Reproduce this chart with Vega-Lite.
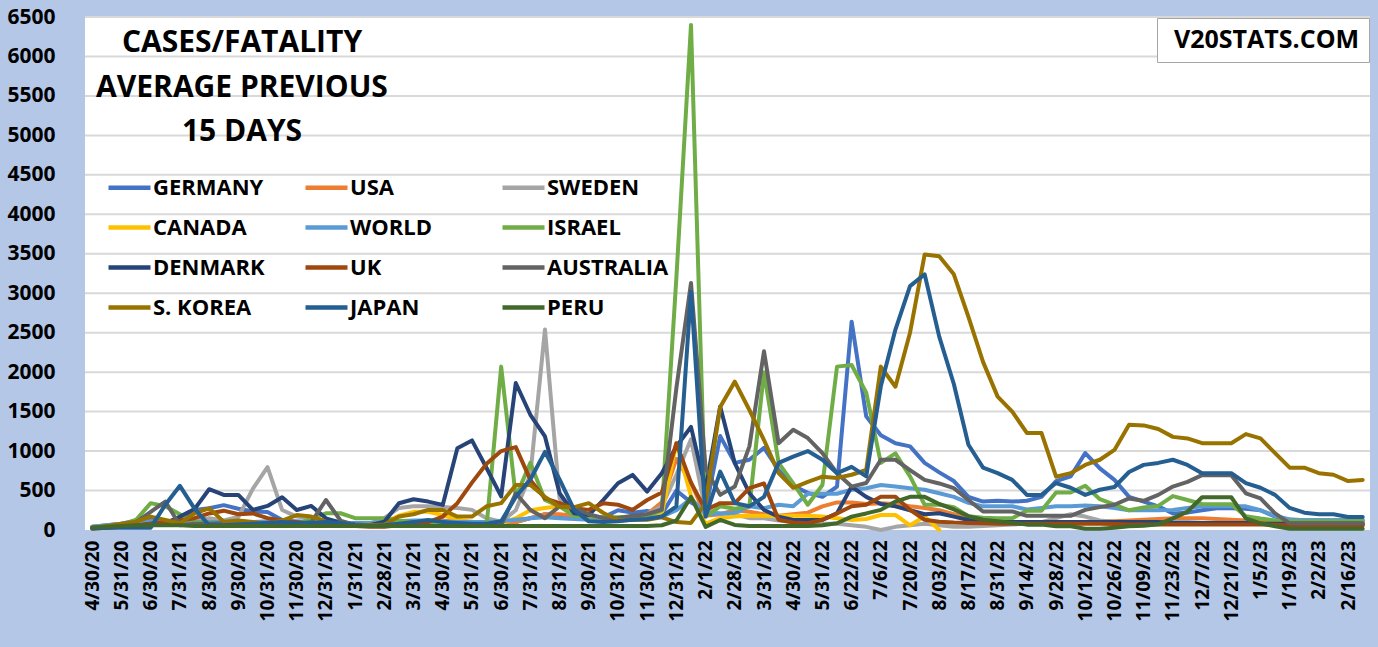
{
  "$schema": "https://vega.github.io/schema/vega-lite/v6.json",
  "width": 1285,
  "height": 513,
  "autosize": {"type": "none"},
  "padding": {"left": 85, "top": 17, "right": 8, "bottom": 117},
  "background": "#B4C7E7",
  "config": {
    "font": "Open Sans",
    "view": {"stroke": null},
    "axisY": {
      "title": null,
      "format": "d",
      "values": [0, 500, 1000, 1500, 2000, 2500, 3000, 3500, 4000, 4500, 5000, 5500, 6000, 6500],
      "labelFont": "Open Sans",
      "labelFontSize": 21,
      "labelFontWeight": "bold",
      "labelColor": "black",
      "labelPadding": 30,
      "ticks": false,
      "tickSize": 0,
      "domain": false,
      "grid": false
    }
  },
  "title": {
    "text": ["CASES/FATALITY", "AVERAGE PREVIOUS", "15 DAYS"],
    "anchor": "start",
    "align": "center",
    "frame": "group",
    "dx": 157,
    "offset": -141,
    "font": "Open Sans",
    "fontSize": 30,
    "fontWeight": "bold",
    "color": "black",
    "lineHeight": 44.5
  },
  "datasets": {
    "rates": [
      {"d": "4/30/20", "GERMANY": 40, "USA": 20, "SWEDEN": 30, "CANADA": 30, "WORLD": 40, "ISRAEL": 20, "DENMARK": 30, "UK": 20, "AUSTRALIA": 30, "SKOREA": 30, "JAPAN": 20, "PERU": 30},
      {"d": "5/15/20", "GERMANY": 60, "USA": 40, "SWEDEN": 50, "CANADA": 50, "WORLD": 60, "ISRAEL": 40, "DENMARK": 40, "UK": 30, "AUSTRALIA": 30, "SKOREA": 50, "JAPAN": 30, "PERU": 40},
      {"d": "5/31/20", "GERMANY": 80, "USA": 60, "SWEDEN": 60, "CANADA": 60, "WORLD": 80, "ISRAEL": 60, "DENMARK": 40, "UK": 40, "AUSTRALIA": 40, "SKOREA": 80, "JAPAN": 30, "PERU": 50},
      {"d": "6/15/20", "GERMANY": 120, "USA": 80, "SWEDEN": 100, "CANADA": 70, "WORLD": 100, "ISRAEL": 130, "DENMARK": 50, "UK": 60, "AUSTRALIA": 100, "SKOREA": 106, "JAPAN": 30, "PERU": 60},
      {"d": "6/30/20", "GERMANY": 150, "USA": 80, "SWEDEN": 100, "CANADA": 80, "WORLD": 110, "ISRAEL": 340, "DENMARK": 80, "UK": 80, "AUSTRALIA": 230, "SKOREA": 170, "JAPAN": 30, "PERU": 60},
      {"d": "7/15/20", "GERMANY": 100, "USA": 70, "SWEDEN": 80, "CANADA": 90, "WORLD": 110, "ISRAEL": 300, "DENMARK": 80, "UK": 100, "AUSTRALIA": 360, "SKOREA": 127, "JAPAN": 320, "PERU": 60},
      {"d": "7/31/21 ", "GERMANY": 150, "USA": 70, "SWEDEN": 100, "CANADA": 80, "WORLD": 110, "ISRAEL": 200, "DENMARK": 170, "UK": 120, "AUSTRALIA": 60, "SKOREA": 85, "JAPAN": 560, "PERU": 60},
      {"d": "8/15/20", "GERMANY": 255, "USA": 60, "SWEDEN": 120, "CANADA": 100, "WORLD": 100, "ISRAEL": 100, "DENMARK": 265, "UK": 150, "AUSTRALIA": 80, "SKOREA": 212, "JAPAN": 270, "PERU": 50},
      {"d": "8/30/20", "GERMANY": 275, "USA": 60, "SWEDEN": 150, "CANADA": 100, "WORLD": 100, "ISRAEL": 90, "DENMARK": 517, "UK": 210, "AUSTRALIA": 80, "SKOREA": 275, "JAPAN": 60, "PERU": 50},
      {"d": "9/15/20", "GERMANY": 315, "USA": 60, "SWEDEN": 120, "CANADA": 80, "WORLD": 100, "ISRAEL": 80, "DENMARK": 444, "UK": 245, "AUSTRALIA": 90, "SKOREA": 106, "JAPAN": 60, "PERU": 50},
      {"d": "9/30/20", "GERMANY": 270, "USA": 60, "SWEDEN": 165, "CANADA": 80, "WORLD": 100, "ISRAEL": 90, "DENMARK": 444, "UK": 200, "AUSTRALIA": 90, "SKOREA": 120, "JAPAN": 70, "PERU": 50},
      {"d": "10/15/20", "GERMANY": 235, "USA": 60, "SWEDEN": 525, "CANADA": 80, "WORLD": 100, "ISRAEL": 80, "DENMARK": 254, "UK": 210, "AUSTRALIA": 90, "SKOREA": 100, "JAPAN": 80, "PERU": 50},
      {"d": "10/31/20", "GERMANY": 228, "USA": 70, "SWEDEN": 796, "CANADA": 90, "WORLD": 110, "ISRAEL": 80, "DENMARK": 305, "UK": 150, "AUSTRALIA": 90, "SKOREA": 80, "JAPAN": 90, "PERU": 50},
      {"d": "11/15/20", "GERMANY": 127, "USA": 80, "SWEDEN": 254, "CANADA": 80, "WORLD": 110, "ISRAEL": 90, "DENMARK": 415, "UK": 120, "AUSTRALIA": 80, "SKOREA": 120, "JAPAN": 100, "PERU": 50},
      {"d": "11/30/20", "GERMANY": 100, "USA": 80, "SWEDEN": 170, "CANADA": 70, "WORLD": 110, "ISRAEL": 80, "DENMARK": 254, "UK": 100, "AUSTRALIA": 80, "SKOREA": 190, "JAPAN": 90, "PERU": 50},
      {"d": "12/15/20", "GERMANY": 80, "USA": 70, "SWEDEN": 150, "CANADA": 60, "WORLD": 100, "ISRAEL": 140, "DENMARK": 305, "UK": 80, "AUSTRALIA": 100, "SKOREA": 170, "JAPAN": 90, "PERU": 50},
      {"d": "12/31/20", "GERMANY": 70, "USA": 60, "SWEDEN": 120, "CANADA": 60, "WORLD": 100, "ISRAEL": 212, "DENMARK": 148, "UK": 70, "AUSTRALIA": 380, "SKOREA": 106, "JAPAN": 100, "PERU": 50},
      {"d": "1/15/21", "GERMANY": 70, "USA": 60, "SWEDEN": 100, "CANADA": 60, "WORLD": 90, "ISRAEL": 212, "DENMARK": 93, "UK": 60, "AUSTRALIA": 120, "SKOREA": 60, "JAPAN": 90, "PERU": 50},
      {"d": "1/31/21", "GERMANY": 60, "USA": 60, "SWEDEN": 80, "CANADA": 50, "WORLD": 90, "ISRAEL": 150, "DENMARK": 70, "UK": 50, "AUSTRALIA": 60, "SKOREA": 60, "JAPAN": 60, "PERU": 50},
      {"d": "2/14/21", "GERMANY": 50, "USA": 50, "SWEDEN": 80, "CANADA": 60, "WORLD": 90, "ISRAEL": 150, "DENMARK": 60, "UK": 40, "AUSTRALIA": 50, "SKOREA": 60, "JAPAN": 50, "PERU": 50},
      {"d": "2/28/21", "GERMANY": 60, "USA": 50, "SWEDEN": 150, "CANADA": 100, "WORLD": 100, "ISRAEL": 150, "DENMARK": 106, "UK": 40, "AUSTRALIA": 50, "SKOREA": 70, "JAPAN": 60, "PERU": 50},
      {"d": "3/15/21", "GERMANY": 90, "USA": 60, "SWEDEN": 280, "CANADA": 180, "WORLD": 110, "ISRAEL": 120, "DENMARK": 339, "UK": 60, "AUSTRALIA": 50, "SKOREA": 170, "JAPAN": 80, "PERU": 50},
      {"d": "3/31/21", "GERMANY": 100, "USA": 80, "SWEDEN": 300, "CANADA": 230, "WORLD": 120, "ISRAEL": 100, "DENMARK": 390, "UK": 80, "AUSTRALIA": 50, "SKOREA": 200, "JAPAN": 100, "PERU": 50},
      {"d": "4/15/21", "GERMANY": 110, "USA": 100, "SWEDEN": 300, "CANADA": 230, "WORLD": 120, "ISRAEL": 90, "DENMARK": 360, "UK": 100, "AUSTRALIA": 50, "SKOREA": 255, "JAPAN": 127, "PERU": 50},
      {"d": "4/30/21", "GERMANY": 100, "USA": 120, "SWEDEN": 290, "CANADA": 190, "WORLD": 110, "ISRAEL": 80, "DENMARK": 318, "UK": 170, "AUSTRALIA": 50, "SKOREA": 254, "JAPAN": 100, "PERU": 50},
      {"d": "5/15/21", "GERMANY": 80, "USA": 100, "SWEDEN": 280, "CANADA": 130, "WORLD": 100, "ISRAEL": 70, "DENMARK": 1037, "UK": 340, "AUSTRALIA": 50, "SKOREA": 170, "JAPAN": 90, "PERU": 50},
      {"d": "5/31/21", "GERMANY": 60, "USA": 80, "SWEDEN": 255, "CANADA": 105, "WORLD": 100, "ISRAEL": 70, "DENMARK": 1135, "UK": 600, "AUSTRALIA": 50, "SKOREA": 170, "JAPAN": 80, "PERU": 50},
      {"d": "6/15/21", "GERMANY": 50, "USA": 80, "SWEDEN": 150, "CANADA": 80, "WORLD": 100, "ISRAEL": 50, "DENMARK": 786, "UK": 840, "AUSTRALIA": 50, "SKOREA": 300, "JAPAN": 80, "PERU": 50},
      {"d": "6/30/21", "GERMANY": 60, "USA": 70, "SWEDEN": 105, "CANADA": 80, "WORLD": 110, "ISRAEL": 2070, "DENMARK": 425, "UK": 1000, "AUSTRALIA": 60, "SKOREA": 340, "JAPAN": 110, "PERU": 50},
      {"d": "7/15/21", "GERMANY": 100, "USA": 100, "SWEDEN": 250, "CANADA": 150, "WORLD": 130, "ISRAEL": 420, "DENMARK": 1863, "UK": 1050, "AUSTRALIA": 465, "SKOREA": 570, "JAPAN": 420, "PERU": 50},
      {"d": "7/31/21", "GERMANY": 150, "USA": 150, "SWEDEN": 700, "CANADA": 250, "WORLD": 150, "ISRAEL": 850, "DENMARK": 1460, "UK": 635, "AUSTRALIA": 254, "SKOREA": 570, "JAPAN": 640, "PERU": 50},
      {"d": "8/15/21", "GERMANY": 200, "USA": 200, "SWEDEN": 2540, "CANADA": 280, "WORLD": 160, "ISRAEL": 380, "DENMARK": 1185, "UK": 400, "AUSTRALIA": 150, "SKOREA": 420, "JAPAN": 990, "PERU": 50},
      {"d": "8/31/21", "GERMANY": 180, "USA": 200, "SWEDEN": 400, "CANADA": 300, "WORLD": 150, "ISRAEL": 300, "DENMARK": 465, "UK": 340, "AUSTRALIA": 300, "SKOREA": 290, "JAPAN": 640, "PERU": 50},
      {"d": "9/15/21", "GERMANY": 200, "USA": 180, "SWEDEN": 200, "CANADA": 200, "WORLD": 140, "ISRAEL": 180, "DENMARK": 211, "UK": 275, "AUSTRALIA": 280, "SKOREA": 290, "JAPAN": 255, "PERU": 50},
      {"d": "9/30/21", "GERMANY": 180, "USA": 160, "SWEDEN": 160, "CANADA": 150, "WORLD": 130, "ISRAEL": 170, "DENMARK": 190, "UK": 255, "AUSTRALIA": 200, "SKOREA": 340, "JAPAN": 110, "PERU": 50},
      {"d": "10/15/21", "GERMANY": 160, "USA": 150, "SWEDEN": 150, "CANADA": 150, "WORLD": 120, "ISRAEL": 160, "DENMARK": 381, "UK": 340, "AUSTRALIA": 150, "SKOREA": 215, "JAPAN": 100, "PERU": 50},
      {"d": "10/31/21", "GERMANY": 250, "USA": 140, "SWEDEN": 150, "CANADA": 140, "WORLD": 120, "ISRAEL": 160, "DENMARK": 592, "UK": 320, "AUSTRALIA": 150, "SKOREA": 130, "JAPAN": 110, "PERU": 50},
      {"d": "11/15/21", "GERMANY": 220, "USA": 160, "SWEDEN": 170, "CANADA": 150, "WORLD": 130, "ISRAEL": 170, "DENMARK": 698, "UK": 255, "AUSTRALIA": 180, "SKOREA": 130, "JAPAN": 130, "PERU": 50},
      {"d": "11/30/21", "GERMANY": 240, "USA": 200, "SWEDEN": 200, "CANADA": 150, "WORLD": 140, "ISRAEL": 180, "DENMARK": 487, "UK": 380, "AUSTRALIA": 200, "SKOREA": 130, "JAPAN": 140, "PERU": 50},
      {"d": "12/15/21", "GERMANY": 200, "USA": 350, "SWEDEN": 300, "CANADA": 200, "WORLD": 170, "ISRAEL": 250, "DENMARK": 720, "UK": 475, "AUSTRALIA": 260, "SKOREA": 160, "JAPAN": 170, "PERU": 60},
      {"d": "12/31/21", "GERMANY": 500, "USA": 900, "SWEDEN": 700, "CANADA": 1100, "WORLD": 250, "ISRAEL": 3200, "DENMARK": 1058, "UK": 1100, "AUSTRALIA": 1800, "SKOREA": 100, "JAPAN": 300, "PERU": 120},
      {"d": "1/15/22", "GERMANY": 350, "USA": 600, "SWEDEN": 1150, "CANADA": 430, "WORLD": 400, "ISRAEL": 6400, "DENMARK": 1307, "UK": 600, "AUSTRALIA": 3130, "SKOREA": 90, "JAPAN": 3020, "PERU": 420},
      {"d": "2/1/22", "GERMANY": 250, "USA": 180, "SWEDEN": 250, "CANADA": 80, "WORLD": 200, "ISRAEL": 170, "DENMARK": 520, "UK": 255, "AUSTRALIA": 780, "SKOREA": 340, "JAPAN": 170, "PERU": 40},
      {"d": "2/14/22", "GERMANY": 1190, "USA": 200, "SWEDEN": 210, "CANADA": 150, "WORLD": 210, "ISRAEL": 300, "DENMARK": 1566, "UK": 340, "AUSTRALIA": 445, "SKOREA": 1560, "JAPAN": 740, "PERU": 127},
      {"d": "2/28/22", "GERMANY": 850, "USA": 250, "SWEDEN": 200, "CANADA": 170, "WORLD": 220, "ISRAEL": 270, "DENMARK": 847, "UK": 340, "AUSTRALIA": 550, "SKOREA": 1880, "JAPAN": 340, "PERU": 64},
      {"d": "3/15/22", "GERMANY": 890, "USA": 230, "SWEDEN": 150, "CANADA": 180, "WORLD": 300, "ISRAEL": 300, "DENMARK": 466, "UK": 530, "AUSTRALIA": 1060, "SKOREA": 1520, "JAPAN": 300, "PERU": 50},
      {"d": "3/31/22", "GERMANY": 1040, "USA": 200, "SWEDEN": 150, "CANADA": 180, "WORLD": 275, "ISRAEL": 2000, "DENMARK": 254, "UK": 590, "AUSTRALIA": 2265, "SKOREA": 1140, "JAPAN": 420, "PERU": 50},
      {"d": "4/15/22", "GERMANY": 760, "USA": 180, "SWEDEN": 120, "CANADA": 180, "WORLD": 320, "ISRAEL": 850, "DENMARK": 170, "UK": 130, "AUSTRALIA": 1100, "SKOREA": 720, "JAPAN": 850, "PERU": 50},
      {"d": "4/30/22", "GERMANY": 560, "USA": 200, "SWEDEN": 100, "CANADA": 180, "WORLD": 300, "ISRAEL": 590, "DENMARK": 127, "UK": 95, "AUSTRALIA": 1270, "SKOREA": 535, "JAPAN": 930, "PERU": 50},
      {"d": "5/15/22", "GERMANY": 470, "USA": 220, "SWEDEN": 100, "CANADA": 180, "WORLD": 460, "ISRAEL": 320, "DENMARK": 127, "UK": 85, "AUSTRALIA": 1165, "SKOREA": 610, "JAPAN": 1000, "PERU": 50},
      {"d": "5/31/22", "GERMANY": 420, "USA": 300, "SWEDEN": 80, "CANADA": 170, "WORLD": 460, "ISRAEL": 570, "DENMARK": 127, "UK": 130, "AUSTRALIA": 975, "SKOREA": 675, "JAPAN": 890, "PERU": 60},
      {"d": "6/8/22", "GERMANY": 550, "USA": 350, "SWEDEN": 80, "CANADA": 150, "WORLD": 460, "ISRAEL": 2070, "DENMARK": 212, "UK": 210, "AUSTRALIA": 720, "SKOREA": 660, "JAPAN": 720, "PERU": 85},
      {"d": "6/22/22", "GERMANY": 2640, "USA": 350, "SWEDEN": 60, "CANADA": 127, "WORLD": 510, "ISRAEL": 2090, "DENMARK": 550, "UK": 300, "AUSTRALIA": 550, "SKOREA": 700, "JAPAN": 800, "PERU": 170},
      {"d": "6/29/22", "GERMANY": 1440, "USA": 330, "SWEDEN": 40, "CANADA": 140, "WORLD": 530, "ISRAEL": 1740, "DENMARK": 420, "UK": 320, "AUSTRALIA": 595, "SKOREA": 760, "JAPAN": 680, "PERU": 210},
      {"d": "7/6/22", "GERMANY": 1200, "USA": 340, "SWEDEN": 0, "CANADA": 190, "WORLD": 570, "ISRAEL": 850, "DENMARK": 330, "UK": 420, "AUSTRALIA": 890, "SKOREA": 2070, "JAPAN": 1820, "PERU": 255},
      {"d": "7/13/22", "GERMANY": 1100, "USA": 330, "SWEDEN": 40, "CANADA": 190, "WORLD": 550, "ISRAEL": 970, "DENMARK": 300, "UK": 420, "AUSTRALIA": 890, "SKOREA": 1815, "JAPAN": 2540, "PERU": 360},
      {"d": "7/20/22", "GERMANY": 1060, "USA": 300, "SWEDEN": 60, "CANADA": 60, "WORLD": 530, "ISRAEL": 680, "DENMARK": 250, "UK": 255, "AUSTRALIA": 760, "SKOREA": 2500, "JAPAN": 3090, "PERU": 420},
      {"d": "7/27/22", "GERMANY": 850, "USA": 280, "SWEDEN": 80, "CANADA": 170, "WORLD": 510, "ISRAEL": 320, "DENMARK": 200, "UK": 130, "AUSTRALIA": 635, "SKOREA": 3490, "JAPAN": 3240, "PERU": 420},
      {"d": "8/03/22", "GERMANY": 730, "USA": 250, "SWEDEN": 60, "CANADA": 0, "WORLD": 465, "ISRAEL": 320, "DENMARK": 212, "UK": 105, "AUSTRALIA": 590, "SKOREA": 3470, "JAPAN": 2450, "PERU": 330},
      {"d": "8/10/22", "GERMANY": 620, "USA": 200, "SWEDEN": 40, "CANADA": null, "WORLD": 420, "ISRAEL": 290, "DENMARK": 170, "UK": 95, "AUSTRALIA": 530, "SKOREA": 3240, "JAPAN": 1850, "PERU": 260},
      {"d": "8/17/22", "GERMANY": 420, "USA": 150, "SWEDEN": 40, "CANADA": null, "WORLD": 345, "ISRAEL": 175, "DENMARK": 127, "UK": 90, "AUSTRALIA": 380, "SKOREA": 2700, "JAPAN": 1080, "PERU": 175},
      {"d": "8/24/22", "GERMANY": 360, "USA": 120, "SWEDEN": 50, "CANADA": null, "WORLD": 300, "ISRAEL": 155, "DENMARK": 110, "UK": 85, "AUSTRALIA": 235, "SKOREA": 2130, "JAPAN": 790, "PERU": 130},
      {"d": "8/31/22", "GERMANY": 370, "USA": 100, "SWEDEN": 60, "CANADA": null, "WORLD": 300, "ISRAEL": 150, "DENMARK": 100, "UK": 80, "AUSTRALIA": 235, "SKOREA": 1690, "JAPAN": 720, "PERU": 110},
      {"d": "9/7/22", "GERMANY": 360, "USA": 100, "SWEDEN": 70, "CANADA": null, "WORLD": 300, "ISRAEL": 150, "DENMARK": 100, "UK": 80, "AUSTRALIA": 235, "SKOREA": 1500, "JAPAN": 635, "PERU": 90},
      {"d": "9/14/22", "GERMANY": 370, "USA": 100, "SWEDEN": 80, "CANADA": null, "WORLD": 260, "ISRAEL": 245, "DENMARK": 100, "UK": 80, "AUSTRALIA": 180, "SKOREA": 1230, "JAPAN": 445, "PERU": 68},
      {"d": "9/21/22", "GERMANY": 420, "USA": 100, "SWEDEN": 100, "CANADA": null, "WORLD": 280, "ISRAEL": 245, "DENMARK": 100, "UK": 80, "AUSTRALIA": 180, "SKOREA": 1230, "JAPAN": 445, "PERU": 68},
      {"d": "9/28/22", "GERMANY": 620, "USA": 100, "SWEDEN": 150, "CANADA": null, "WORLD": 300, "ISRAEL": 475, "DENMARK": 100, "UK": 80, "AUSTRALIA": 180, "SKOREA": 675, "JAPAN": 595, "PERU": 47},
      {"d": "10/5/22", "GERMANY": 680, "USA": 100, "SWEDEN": 200, "CANADA": null, "WORLD": 300, "ISRAEL": 475, "DENMARK": 100, "UK": 80, "AUSTRALIA": 180, "SKOREA": 720, "JAPAN": 535, "PERU": 47},
      {"d": "10/12/22", "GERMANY": 975, "USA": 100, "SWEDEN": 170, "CANADA": null, "WORLD": 310, "ISRAEL": 560, "DENMARK": 100, "UK": 80, "AUSTRALIA": 255, "SKOREA": 825, "JAPAN": 445, "PERU": 15},
      {"d": "10/19/22", "GERMANY": 780, "USA": 110, "SWEDEN": 120, "CANADA": null, "WORLD": 300, "ISRAEL": 390, "DENMARK": 100, "UK": 80, "AUSTRALIA": 290, "SKOREA": 890, "JAPAN": 510, "PERU": 15},
      {"d": "10/26/22", "GERMANY": 635, "USA": 110, "SWEDEN": 100, "CANADA": null, "WORLD": 280, "ISRAEL": 320, "DENMARK": 100, "UK": 75, "AUSTRALIA": 320, "SKOREA": 1015, "JAPAN": 545, "PERU": 30},
      {"d": "11/02/22", "GERMANY": 420, "USA": 120, "SWEDEN": 100, "CANADA": null, "WORLD": 250, "ISRAEL": 250, "DENMARK": 100, "UK": 70, "AUSTRALIA": 400, "SKOREA": 1335, "JAPAN": 735, "PERU": 47},
      {"d": "11/09/22", "GERMANY": 360, "USA": 130, "SWEDEN": 100, "CANADA": null, "WORLD": 250, "ISRAEL": 285, "DENMARK": 100, "UK": 70, "AUSTRALIA": 370, "SKOREA": 1325, "JAPAN": 825, "PERU": 55},
      {"d": "11/16/22", "GERMANY": 300, "USA": 140, "SWEDEN": 100, "CANADA": null, "WORLD": 250, "ISRAEL": 305, "DENMARK": 100, "UK": 70, "AUSTRALIA": 445, "SKOREA": 1280, "JAPAN": 850, "PERU": 72},
      {"d": "11/23/22", "GERMANY": 210, "USA": 150, "SWEDEN": 100, "CANADA": null, "WORLD": 255, "ISRAEL": 430, "DENMARK": 90, "UK": 70, "AUSTRALIA": 550, "SKOREA": 1180, "JAPAN": 890, "PERU": 148},
      {"d": "11/30/22", "GERMANY": 220, "USA": 150, "SWEDEN": 100, "CANADA": null, "WORLD": 280, "ISRAEL": 380, "DENMARK": 90, "UK": 70, "AUSTRALIA": 610, "SKOREA": 1160, "JAPAN": 825, "PERU": 233},
      {"d": "12/7/22", "GERMANY": 250, "USA": 150, "SWEDEN": 90, "CANADA": null, "WORLD": 300, "ISRAEL": 330, "DENMARK": 90, "UK": 70, "AUSTRALIA": 695, "SKOREA": 1100, "JAPAN": 720, "PERU": 415},
      {"d": "12/14/22", "GERMANY": 275, "USA": 140, "SWEDEN": 90, "CANADA": null, "WORLD": 300, "ISRAEL": 325, "DENMARK": 90, "UK": 70, "AUSTRALIA": 695, "SKOREA": 1100, "JAPAN": 720, "PERU": 415},
      {"d": "12/21/22", "GERMANY": 275, "USA": 130, "SWEDEN": 90, "CANADA": null, "WORLD": 300, "ISRAEL": 325, "DENMARK": 90, "UK": 70, "AUSTRALIA": 695, "SKOREA": 1100, "JAPAN": 720, "PERU": 415},
      {"d": "12/28/22", "GERMANY": 270, "USA": 120, "SWEDEN": 90, "CANADA": null, "WORLD": 300, "ISRAEL": 175, "DENMARK": 90, "UK": 70, "AUSTRALIA": 465, "SKOREA": 1215, "JAPAN": 595, "PERU": 148},
      {"d": "1/5/23", "GERMANY": 250, "USA": 110, "SWEDEN": 80, "CANADA": null, "WORLD": 250, "ISRAEL": 145, "DENMARK": 80, "UK": 70, "AUSTRALIA": 400, "SKOREA": 1160, "JAPAN": 535, "PERU": 85},
      {"d": "1/12/23", "GERMANY": 170, "USA": 90, "SWEDEN": 70, "CANADA": null, "WORLD": 180, "ISRAEL": 120, "DENMARK": 80, "UK": 65, "AUSTRALIA": 210, "SKOREA": 975, "JAPAN": 445, "PERU": 47},
      {"d": "1/19/23", "GERMANY": 130, "USA": 80, "SWEDEN": 60, "CANADA": null, "WORLD": 135, "ISRAEL": 110, "DENMARK": 80, "UK": 60, "AUSTRALIA": 85, "SKOREA": 790, "JAPAN": 280, "PERU": 15},
      {"d": "1/26/23", "GERMANY": 125, "USA": 80, "SWEDEN": 60, "CANADA": null, "WORLD": 125, "ISRAEL": 110, "DENMARK": 80, "UK": 60, "AUSTRALIA": 85, "SKOREA": 790, "JAPAN": 220, "PERU": 15},
      {"d": "2/2/23", "GERMANY": 125, "USA": 80, "SWEDEN": 60, "CANADA": null, "WORLD": 125, "ISRAEL": 110, "DENMARK": 80, "UK": 60, "AUSTRALIA": 85, "SKOREA": 720, "JAPAN": 200, "PERU": 15},
      {"d": "2/9/23", "GERMANY": 125, "USA": 80, "SWEDEN": 60, "CANADA": null, "WORLD": 125, "ISRAEL": 110, "DENMARK": 80, "UK": 60, "AUSTRALIA": 85, "SKOREA": 700, "JAPAN": 200, "PERU": 15},
      {"d": "2/16/23", "GERMANY": 125, "USA": 80, "SWEDEN": 60, "CANADA": null, "WORLD": 125, "ISRAEL": 110, "DENMARK": 80, "UK": 60, "AUSTRALIA": 85, "SKOREA": 620, "JAPAN": 165, "PERU": 15},
      {"d": "2/23/23", "GERMANY": 125, "USA": 80, "SWEDEN": 60, "CANADA": null, "WORLD": 125, "ISRAEL": 110, "DENMARK": 80, "UK": 60, "AUSTRALIA": 85, "SKOREA": 635, "JAPAN": 165, "PERU": 15}
    ],
    "gridlines": [
      {"g": 500}, {"g": 1000}, {"g": 1500}, {"g": 2000}, {"g": 2500}, {"g": 3000}, {"g": 3500},
      {"g": 4000}, {"g": 4500}, {"g": 5000}, {"g": 5500}, {"g": 6000}, {"g": 6500}
    ]
  },
  "layer": [
    {
      "data": {"values": [{"band": "plot"}]},
      "mark": {"type": "rect", "fill": "white", "stroke": null},
      "encoding": {
        "y": {"datum": 0, "type": "quantitative"},
        "y2": {"datum": 6500}
      }
    },
    {
      "data": {"name": "gridlines"},
      "mark": {"type": "rule", "color": "#D9D9D9", "strokeWidth": 2},
      "encoding": {
        "y": {"field": "g", "type": "quantitative"}
      }
    },
    {
      "data": {"name": "rates"},
      "transform": [
        {
          "fold": ["GERMANY", "USA", "SWEDEN", "CANADA", "WORLD", "ISRAEL", "DENMARK", "UK", "AUSTRALIA", "SKOREA", "JAPAN", "PERU"],
          "as": ["country", "v"]
        }
      ],
      "mark": {"type": "line", "strokeWidth": 4, "strokeJoin": "round", "strokeCap": "round"},
      "encoding": {
        "x": {
          "field": "d",
          "type": "ordinal",
          "sort": null,
          "scale": {"type": "point", "padding": 0.5},
          "axis": {
            "title": null,
            "values": ["4/30/20", "5/31/20", "6/30/20", "7/31/21 ", "8/30/20", "9/30/20", "10/31/20", "11/30/20", "12/31/20", "1/31/21", "2/28/21", "3/31/21", "4/30/21", "5/31/21", "6/30/21", "7/31/21", "8/31/21", "9/30/21", "10/31/21", "11/30/21", "12/31/21", "2/1/22", "2/28/22", "3/31/22", "4/30/22", "5/31/22", "6/22/22", "7/6/22", "7/20/22", "8/03/22", "8/17/22", "8/31/22", "9/14/22", "9/28/22", "10/12/22", "10/26/22", "11/09/22", "11/23/22", "12/7/22", "12/21/22", "1/5/23", "1/19/23", "2/2/23", "2/16/23"],
            "labelAngle": -90,
            "labelFont": "Open Sans",
            "labelFontSize": 19,
            "labelFontWeight": "bold",
            "labelColor": "black",
            "labelPadding": 10,
            "labelOverlap": false,
            "ticks": false,
            "tickSize": 0,
            "domain": false,
            "grid": false
          }
        },
        "y": {
          "field": "v",
          "type": "quantitative",
          "scale": {"domain": [0, 6500], "nice": false}
        },
        "color": {
          "field": "country",
          "type": "nominal",
          "scale": {
            "domain": ["GERMANY", "USA", "SWEDEN", "CANADA", "WORLD", "ISRAEL", "DENMARK", "UK", "AUSTRALIA", "SKOREA", "JAPAN", "PERU"],
            "range": ["#4472C4", "#ED7D31", "#A5A5A5", "#FFC000", "#5B9BD5", "#70AD47", "#264478", "#9E480E", "#636363", "#997300", "#255E91", "#43682B"]
          },
          "legend": {
            "title": null,
            "orient": "none",
            "direction": "horizontal",
            "legendX": 21,
            "legendY": 147,
            "columns": 3,
            "gridAlign": "all",
            "columnPadding": 21,
            "rowPadding": 5,
            "padding": 0,
            "symbolType": "stroke",
            "symbolSize": 1764,
            "symbolStrokeWidth": 4.5,
            "labelOffset": 0,
            "labelFont": "Open Sans",
            "labelFontSize": 22,
            "labelFontWeight": "bold",
            "labelColor": "black",
            "labelLimit": 300,
            "labelExpr": "datum.label == 'SKOREA' ? 'S. KOREA' : datum.label"
          }
        }
      }
    },
    {
      "data": {"values": [{"site": "V20STATS.COM"}]},
      "mark": {"type": "point", "opacity": 0, "size": 0},
      "encoding": {
        "shape": {
          "field": "site",
          "type": "nominal",
          "legend": {
            "title": null,
            "orient": "top-right",
            "offset": 1,
            "padding": 9,
            "strokeColor": "#A6A6A6",
            "fillColor": "white",
            "symbolSize": 0,
            "symbolStrokeWidth": 0,
            "symbolOpacity": 0,
            "labelOffset": -17,
            "labelFont": "Open Sans",
            "labelFontSize": 25,
            "labelFontWeight": "bold",
            "labelColor": "black",
            "labelLimit": 400
          }
        }
      }
    }
  ]
}
